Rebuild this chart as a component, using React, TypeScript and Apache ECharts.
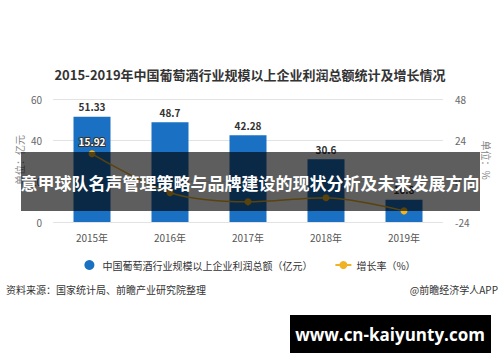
import React, { useEffect, useRef } from "react";
import * as echarts from "echarts";

const categories = ["2015年", "2016年", "2017年", "2018年", "2019年"];
const profitValues = [51.33, 48.7, 42.28, 30.6, 10.8];
const growthValues = [15.92, -6.9, -12.2, -9.8, -17.5];
const leftTicks = { min: 0, max: 60, interval: 20 };
const rightTicks = { min: -24, max: 48, interval: 24 };

const FONT = "'Noto Sans CJK SC', 'Noto Sans', sans-serif";

export default function App() {
  const ref = useRef<HTMLDivElement>(null);
  useEffect(() => {
    if (!ref.current) return;
    const chart = echarts.init(ref.current, undefined, { renderer: "svg" });
    chart.setOption({
      animation: false,
      backgroundColor: "#ffffff",
      textStyle: { fontFamily: FONT },
      title: {
        text: "2015-2019年中国葡萄酒行业规模以上企业利润总额统计及增长情况",
        left: "center",
        top: 63,
        textStyle: { fontSize: 13, fontWeight: "bold", color: "#333", fontFamily: FONT },
      },
      grid: { left: 53, right: 57, top: 99, bottom: 140 },
      legend: {
        top: 255,
        left: "center",
        itemGap: 22,
        itemWidth: 16,
        itemHeight: 10,
        textStyle: { fontSize: 10, color: "#333", fontFamily: FONT },
        data: [
          { name: "中国葡萄酒行业规模以上企业利润总额（亿元）", icon: "circle" },
          { name: "增长率（%）" },
        ],
      },
      xAxis: {
        type: "category",
        data: categories,
        axisLine: { show: false },
        axisTick: { show: false },
        axisLabel: { color: "#555", fontSize: 10, margin: 10 },
      },
      yAxis: [
        {
          type: "value",
          min: leftTicks.min,
          max: leftTicks.max,
          interval: leftTicks.interval,
          axisLine: { show: false },
          axisTick: { show: false },
          axisLabel: { color: "#666", fontSize: 10, margin: 11 },
          splitLine: { lineStyle: { color: "#e3e3e3" } },
        },
        {
          type: "value",
          min: rightTicks.min,
          max: rightTicks.max,
          interval: rightTicks.interval,
          axisLine: { show: false },
          axisTick: { show: false },
          axisLabel: { color: "#666", fontSize: 10, margin: 12 },
          splitLine: { show: false },
        },
      ],
      series: [
        {
          name: "中国葡萄酒行业规模以上企业利润总额（亿元）",
          type: "bar",
          data: profitValues,
          barWidth: 37,
          itemStyle: { color: "#1a70c2" },
          label: {
            show: true,
            position: "top",
            color: "#333",
            fontSize: 10,
            fontWeight: "bold",
            distance: 5,
          },
        },
        {
          name: "增长率（%）",
          type: "line",
          yAxisIndex: 1,
          data: growthValues.map((v, i) => ({
            value: v,
            label: { show: i === 0 },
          })),
          smooth: 0.3,
          symbol: "circle",
          symbolSize: 7,
          lineStyle: { color: "#f0b323", width: 1.5 },
          itemStyle: { color: "#f0b323" },
          label: {
            position: "top",
            color: "#fff",
            fontSize: 10,
            fontWeight: "bold",
            textBorderColor: "#333",
            textBorderWidth: 2,
            distance: 4,
          },
        },
      ],
      graphic: [
        {
          type: "text",
          x: 19,
          y: 160,
          rotation: Math.PI / 2,
          z: 5,
          style: {
            text: "单位：亿元",
            fill: "#888",
            fontSize: 10,
            fontFamily: FONT,
            align: "center",
            verticalAlign: "middle",
          },
        },
        {
          type: "text",
          x: 486,
          y: 160,
          rotation: -Math.PI / 2,
          z: 5,
          style: {
            text: "单位：%",
            fill: "#888",
            fontSize: 10,
            fontFamily: FONT,
            align: "center",
            verticalAlign: "middle",
          },
        },
        {
          type: "rect",
          z: 100,
          shape: { x: 21, y: 152, width: 459, height: 59 },
          style: { fill: "rgba(0,0,0,0.63)" },
        },
        {
          type: "text",
          z: 101,
          x: 250,
          y: 182,
          style: {
            text: "意甲球队名声管理策略与品牌建设的现状分析及未来发展方向",
            fill: "#ffffff",
            fontSize: 17,
            fontWeight: "bold",
            fontFamily: FONT,
            align: "center",
            verticalAlign: "middle",
          },
        },
        {
          type: "text",
          z: 10,
          x: 6,
          y: 289,
          style: {
            text: "资料来源：国家统计局、前瞻产业研究院整理",
            fill: "#333",
            fontSize: 10,
            fontFamily: FONT,
            align: "left",
            verticalAlign: "middle",
          },
        },
        {
          type: "text",
          z: 10,
          x: 498,
          y: 289,
          style: {
            text: "@前瞻经济学人APP",
            fill: "#333",
            fontSize: 10,
            fontFamily: FONT,
            align: "right",
            verticalAlign: "middle",
          },
        },
        {
          type: "rect",
          z: 100,
          shape: { x: 290, y: 315, width: 201, height: 38 },
          style: { fill: "#000" },
        },
        {
          type: "text",
          z: 101,
          x: 390,
          y: 334,
          style: {
            text: "www.cn-kaiyunty.com",
            fill: "#ffffff",
            fontSize: 17,
            fontWeight: "bold",
            fontFamily: "'Open Sans', 'DejaVu Sans', sans-serif",
            align: "center",
            verticalAlign: "middle",
          },
        },
      ],
    });
    return () => chart.dispose();
  }, []);
  return (
    <div
      ref={ref}
      style={{ position: "fixed", left: 0, top: 0, width: 500, height: 362 }}
    />
  );
}
